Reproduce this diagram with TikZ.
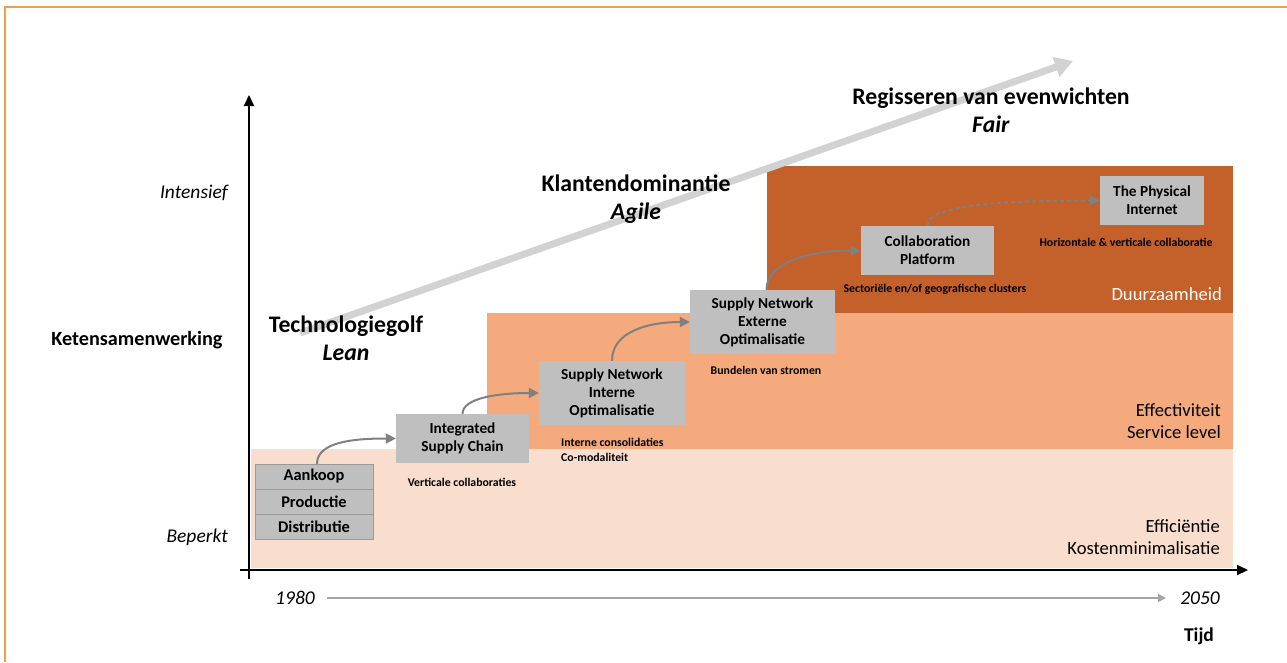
\documentclass[tikz,border=0pt]{standalone}
\usepackage{fontspec}
\setmainfont{Carlito}
\usetikzlibrary{arrows.meta}

\definecolor{framecol}{RGB}{242,160,72}
\definecolor{bandlight}{RGB}{250,222,205}
\definecolor{bandmid}{RGB}{244,170,124}
\definecolor{banddark}{RGB}{196,96,42}
\definecolor{boxgray}{RGB}{191,191,192}
\definecolor{flowgray}{RGB}{128,128,128}
\definecolor{wavegray}{RGB}{210,210,210}
\definecolor{timegray}{RGB}{165,165,165}

\begin{document}
\begin{tikzpicture}[x=1pt,y=-1pt,
  stepbox/.style={fill=boxgray, inner sep=0pt, align=center, font=\bfseries\fontsize{15.3}{18}\selectfont},
  stackbox/.style={stepbox, draw=gray!80, minimum width=118pt, minimum height=25pt, font=\bfseries\fontsize{16.4}{18}\selectfont},
  note/.style={inner sep=0pt, align=left, font=\bfseries\fontsize{11.8}{15}\selectfont},
  wave/.style={inner sep=0pt, align=center, font=\bfseries\fontsize{23.7}{28}\selectfont},
  level/.style={inner sep=0pt, anchor=east, align=right, font=\fontsize{18.6}{22}\selectfont},
  flow/.style={draw=flowgray, line width=2pt, -{Triangle[length=10pt,width=10pt]}},
  axis/.style={draw=black, line width=2pt, -{Triangle[length=11pt,width=10pt]}},
]
\useasboundingbox (0,0) rectangle (1287,662);

%%%% frame
\draw[framecol, line width=1.5pt] (5,662) -- (5,7) -- (1287,7);

%%%% bands
\fill[bandlight] (251,449) rectangle (1233,568);
\fill[bandmid]   (487,313) rectangle (1233,449);
\fill[banddark]  (767,166) rectangle (1233,313);

%%%% golf arrow
\coordinate (waveS) at (300,333);
\coordinate (waveE) at (1073,61);
\draw[wavegray, line width=7pt, -{Triangle[length=18pt,width=20pt]}] (waveS) -- (waveE);

%%%% axes
\draw[axis] (249,579) -- (249,95);
\draw[axis] (240,570) -- (1248,570);

%%%% steps
\node[stackbox] (aankoop)     at (314,476.5) {Aankoop};
\node[stackbox] (productie)   at (314,501.5) {Productie};
\node[stackbox] (distributie) at (314,527)   {Distributie};
\node[stepbox, minimum width=133pt, minimum height=49pt] (isc)  at (462.5,438.5) {Integrated\\Supply Chain};
\node[stepbox, minimum width=146pt, minimum height=64pt] (snio) at (612,393)     {Supply Network\\Interne\\Optimalisatie};
\node[stepbox, minimum width=145pt, minimum height=64pt] (sneo) at (762.5,322)   {Supply Network\\Externe\\Optimalisatie};
\node[stepbox, minimum width=133pt, minimum height=49pt] (cp)   at (927.5,250.5) {Collaboration\\Platform};
\node[stepbox, minimum width=104pt, minimum height=49pt] (pi)   at (1152,200.5)  {The Physical\\Internet};

%%%% flows
\draw[flow] ([xshift=3pt]aankoop.north) .. controls +(0,-22) and +(-42,0) .. (isc.west);
\draw[flow] (isc.north) .. controls +(0,-16) and +(-40,0) .. (snio.west);
\draw[flow] (snio.north) .. controls +(0,-30) and +(-40,0) .. (sneo.west);
\draw[flow] ([xshift=4pt]sneo.north) .. controls +(0,-30) and +(-45,0) .. (cp.west);
\draw[flow, dash pattern=on 4pt off 3pt] (cp.north) .. controls +(0,-22) and +(-90,0) .. (pi.west);

%%%% notes
\node[note] (vert)   at (462,482)   {Verticale collaboraties};
\node[note, anchor=west] (intern) at (561,449.5) {Interne consolidaties\\Co-modaliteit};
\node[note] (bundel) at (766,370)   {Bundelen van stromen};
\node[note] (sector) at (935,289)   {Sectoriële en/of geografische clusters};
\node[note] (horiz)  at (1126,242)  {Horizontale \& verticale collaboratie};

%%%% levels
\node[level, text=white] (duurzaam) at (1222,294) {Duurzaamheid};
\node[level] (effect) at (1221,421) {Effectiviteit\\Service level};
\node[level] (effic)  at (1220,537) {Efficiëntie\\Kostenminimalisatie};

%%%% waves
\node[wave] (techno) at (346,338) {Technologiegolf\\\textit{Lean}};
\node[wave] (klant)  at (636,199) {Klantendominantie\\\textit{Agile}};
\node[wave] (regie)  at (991,110) {Regisseren van evenwichten\\\textit{Fair}};

%%%% axis labels
\node[inner sep=0pt, font=\bfseries\fontsize{20.2}{22}\selectfont] (keten) at (137,340) {Ketensamenwerking};
\node[inner sep=0pt, anchor=east, font=\itshape\fontsize{19.5}{22}\selectfont] (intens) at (228,193) {Intensief};
\node[inner sep=0pt, anchor=east, font=\itshape\fontsize{19.5}{22}\selectfont] (beperkt) at (228,537) {Beperkt};
\node[inner sep=0pt, font=\itshape\fontsize{19.5}{22}\selectfont] (t1980) at (295,598) {1980};
\node[inner sep=0pt, font=\itshape\fontsize{19.5}{22}\selectfont] (t2050) at (1200,598) {2050};
\node[inner sep=0pt, font=\bfseries\fontsize{19.5}{22}\selectfont] (tijd) at (1199,636) {Tijd};
\draw[timegray, line width=1.5pt, shorten <=12pt, shorten >=14pt, -{Triangle[length=8pt,width=8pt]}] (t1980) -- (t2050);

\end{tikzpicture}
\end{document}
